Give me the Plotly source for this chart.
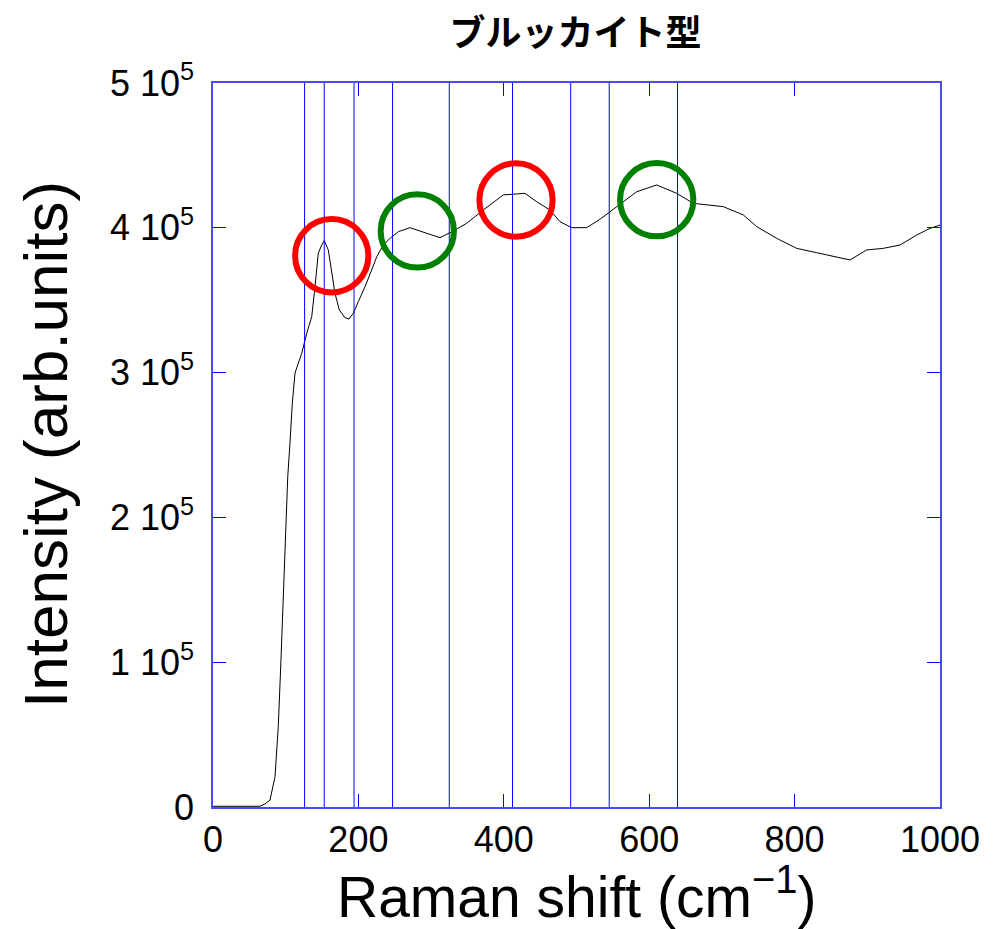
import plotly.graph_objects as go

# Raman spectrum
shift = [0, 37, 64.6, 71.5, 78.4, 85.3, 89.8, 93.5, 96.7, 99.4, 102.8, 105.9, 109.1,
         112.8, 118.7, 122, 128.9, 135.8, 140.3, 144.8, 149.5, 153.1, 158.6, 163.3,
         167.8, 173.7, 181.6, 187.1, 193, 199.9, 209.1, 218.3, 225.2, 234.3, 243.5,
         254.9, 271, 294, 312.2, 330.5, 349, 371.8, 399.3, 429.2, 445.3, 463.5, 477.3,
         493.4, 514, 532.3, 555.3, 582.8, 610.3, 637.8, 660.7, 683.6, 701.9, 729.4,
         747.9, 775.4, 802.9, 830.4, 857.9, 876.2, 899.2, 922, 945, 968, 986.2, 1000]
intensity = [500, 500, 500, 2100, 4800, 20900, 55500, 101500, 147800, 193600, 228100,
             251400, 279000, 299700, 308700, 313300, 327100, 338600, 359300, 382400,
             388100, 391100, 384700, 370900, 354800, 343300, 337900, 337000, 341000,
             349000, 359300, 370900, 380000, 388100, 392700, 397300, 400100, 396200,
             393200, 397800, 403100, 412300, 422700, 423800, 418000, 412300, 404200,
             400100, 400100, 405900, 414600, 424900, 429600, 423800, 416900, 415700,
             414600, 408900, 400800, 392700, 385800, 382800, 380000, 377800, 384700,
             385800, 388100, 395000, 399600, 401900]

# Reference peak positions (vertical blue lines)
peak_lines = [126, 153, 194, 247, 325, 412, 492, 545, 639]

# Highlight circles
circle_x = [163.3, 281, 416.8, 610.3]
circle_y = [380700, 397800, 419200, 419400]
circle_color = ["#ff0000", "#008000", "#ff0000", "#008000"]
circle_rx = 50.4
circle_ry = 25300

x_ticks = [0, 200, 400, 600, 800, 1000]
y_ticks = [0, 100000, 200000, 300000, 400000, 500000]
y_ticktext = ["0", "1 10<sup>5</sup>", "2 10<sup>5</sup>", "3 10<sup>5</sup>",
              "4 10<sup>5</sup>", "5 10<sup>5</sup>"]

FONT = "Liberation Sans, Arial, sans-serif"
BLUE = "#0000ff"

fig = go.Figure()
fig.add_trace(go.Scatter(x=shift, y=intensity, mode="lines",
                         line=dict(color="black", width=1), showlegend=False))

shapes = []
for p in peak_lines:
    shapes.append(dict(type="line", xref="x", yref="y", x0=p, x1=p, y0=0, y1=500000,
                       line=dict(color=BLUE, width=1), layer="above"))
for cx, cy, c in zip(circle_x, circle_y, circle_color):
    shapes.append(dict(type="circle", xref="x", yref="y",
                       x0=cx - circle_rx, x1=cx + circle_rx,
                       y0=cy - circle_ry, y1=cy + circle_ry,
                       line=dict(color=c, width=6), layer="above"))

fig.update_layout(
    width=1001, height=929,
    margin=dict(l=213, r=61, t=83, b=122),
    plot_bgcolor="white", paper_bgcolor="white",
    shapes=shapes,
    title=dict(text="<b>ブルッカイト型</b>", x=0.575, xanchor="center", y=1 - 33 / 929,
               yanchor="middle",
               font=dict(family="Noto Sans CJK JP", size=36, color="black")),
    xaxis=dict(range=[0, 1000], tickvals=x_ticks, ticks="inside", ticklen=13,
               tickcolor=BLUE, tickwidth=1, showline=True, linecolor="#4a4af5",
               linewidth=1.5, mirror="ticks", showgrid=False, zeroline=False,
               tickfont=dict(family=FONT, size=36, color="black")),
    yaxis=dict(range=[0, 500000], tickvals=y_ticks, ticktext=y_ticktext,
               ticks="inside", ticklen=13, tickcolor=BLUE, tickwidth=1,
               showline=True, linecolor="#4a4af5", linewidth=1.5, mirror="ticks",
               showgrid=False, zeroline=False, ticklabelstandoff=10,
               tickfont=dict(family=FONT, size=36, color="black")),
    annotations=[
        dict(text="Raman shift (cm<sup>−1</sup>)", xref="paper", yref="paper",
             x=0.5, y=(807 - 893) / 724, xanchor="center", yanchor="middle",
             showarrow=False, font=dict(family=FONT, size=57, color="black")),
        dict(text="Intensity (arb.units)", xref="paper", yref="paper",
             x=(45 - 213) / 727, y=0.5, xanchor="center", yanchor="middle",
             textangle=-90, showarrow=False,
             font=dict(family=FONT, size=62, color="black")),
    ],
)

fig.write_html("out.html")
